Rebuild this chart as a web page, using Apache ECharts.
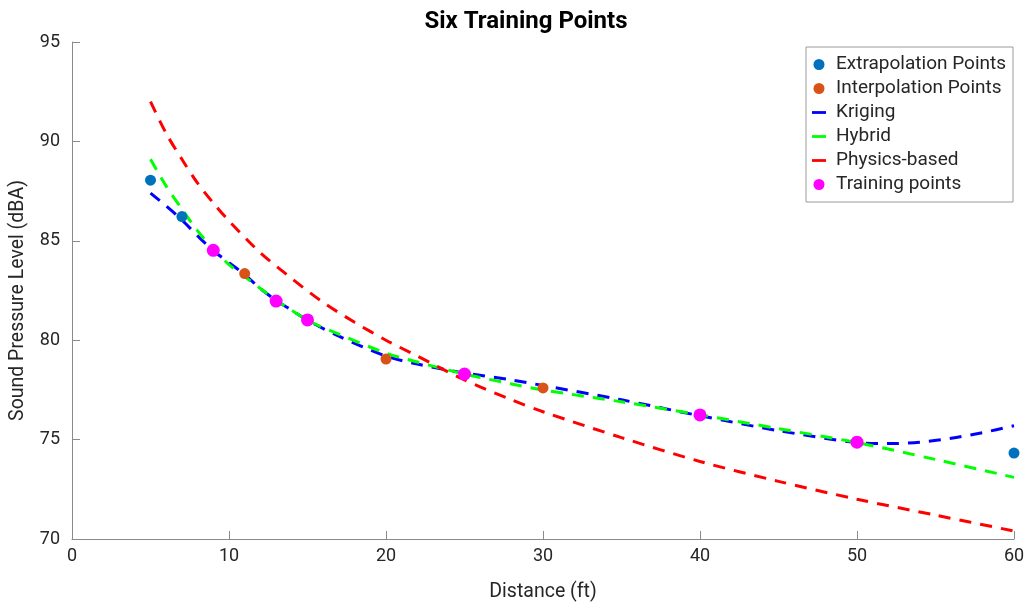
<!DOCTYPE html>
<html>
<head>
<meta charset="utf-8">
<script src="https://cdn.jsdelivr.net/npm/echarts@6/dist/echarts.min.js"></script>
<style>
  html, body { margin: 0; padding: 0; background: #fff; }
  #chart { width: 1031px; height: 603px; }
</style>
</head>
<body>
<div id="chart"></div>
<script>
// data
const extrapolationPts = [[5, 88.05], [7, 86.22], [60, 74.32]]
const interpolationPts = [[11, 83.35], [20, 79.05], [30, 77.6]]
const trainingPts = [[9, 84.52], [13, 81.97], [15, 81.02], [25, 78.3], [40, 76.24], [50, 74.87]]

const krigingX = [5, 6, 7, 8, 9, 10, 11, 12, 13, 14, 15, 17, 20, 22, 25, 28, 30, 35, 40, 45, 50, 52, 54, 56, 58, 60]
const krigingY = [87.4, 86.75, 86.05, 85.25, 84.5, 83.9, 83.3, 82.6, 82.0, 81.5, 81.0, 80.2, 79.2, 78.8, 78.35, 78.0, 77.72, 77.0, 76.2, 75.45, 74.85, 74.8, 74.87, 75.07, 75.35, 75.7]

const hybridX = [5, 6, 7, 8, 9, 10, 11, 12, 13, 14, 15, 17, 20, 22, 25, 28, 30, 35, 40, 45, 50, 55, 60]
const hybridY = [89.1, 87.75, 86.6, 85.5, 84.6, 83.8, 83.2, 82.6, 82.0, 81.5, 81.0, 80.3, 79.35, 78.9, 78.3, 77.8, 77.5, 76.9, 76.25, 75.55, 74.85, 74.0, 73.1]

const physicsX = [5, 6, 7, 8, 9, 10, 12, 14, 16, 18, 20, 22, 25, 28, 30, 35, 40, 45, 50, 55, 60]
const physicsY = [92.0, 90.4, 89.1, 87.9, 86.9, 86.0, 84.4, 83.1, 81.9, 80.9, 80.0, 79.2, 78.0, 77.0, 76.4, 75.1, 73.9, 72.9, 72.0, 71.2, 70.4]

const xTicks = [0, 10, 20, 30, 40, 50, 60]
const yTicks = [70, 75, 80, 85, 90, 95]

const pair = (xs, ys) => xs.map((x, i) => [x, ys[i]])

const axisGray = '#8a8a8a'
const textDark = '#262626'
const font = 'Roboto'
const lineIcon = 'path://M0,0 H20 V4 H0 Z'

let chart = echarts.init(document.getElementById('chart'))

const dashedLine = (name, color, data, z) => ({
  name: name,
  type: 'line',
  data: data,
  showSymbol: false,
  symbol: 'none',
  smooth: 0.3,
  z: z,
  lineStyle: { color: color, width: 3, type: [12, 9] },
  itemStyle: { color: color }
})

const option = {
  animation: false,
  textStyle: { fontFamily: font },
  title: {
    text: 'Six Training Points',
    left: 521,
    textAlign: 'center',
    top: 5,
    textStyle: { fontFamily: font, fontSize: 24, fontWeight: 'bold', color: '#000' }
  },
  legend: {
    orient: 'vertical',
    left: 806,
    top: 47,
    padding: [8, 7, 8, 6],
    itemGap: 5,
    itemWidth: 14,
    itemHeight: 11,
    borderColor: '#9a9a9a',
    borderWidth: 1,
    backgroundColor: '#fff',
    textStyle: { fontFamily: font, fontSize: 19, color: textDark, padding: [0, 0, 0, 5] },
    data: [
      { name: 'Extrapolation Points', icon: 'circle' },
      { name: 'Interpolation Points', icon: 'circle' },
      { name: 'Kriging', icon: lineIcon },
      { name: 'Hybrid', icon: lineIcon },
      { name: 'Physics-based', icon: lineIcon },
      { name: 'Training points', icon: 'circle' }
    ]
  },
  grid: { left: 72, right: 17, top: 42, bottom: 64, outerBoundsMode: 'none', containLabel: false },
  xAxis: {
    type: 'value',
    min: xTicks[0],
    max: xTicks[xTicks.length - 1],
    interval: 10,
    name: 'Distance (ft)',
    nameLocation: 'middle',
    nameGap: 43,
    nameTextStyle: { fontFamily: font, fontSize: 19.5, color: textDark },
    axisLine: { lineStyle: { color: axisGray } },
    axisTick: { inside: true, length: 8, lineStyle: { color: axisGray } },
    axisLabel: { fontFamily: font, fontSize: 18, color: textDark, margin: 8 },
    splitLine: { show: false }
  },
  yAxis: {
    type: 'value',
    min: yTicks[0],
    max: yTicks[yTicks.length - 1],
    interval: 5,
    name: 'Sound Pressure Level (dBA)',
    nameLocation: 'middle',
    nameGap: 44,
    nameTextStyle: { fontFamily: font, fontSize: 19.5, color: textDark, padding: [0, 20, 0, 0] },
    axisLine: { show: true, lineStyle: { color: axisGray } },
    axisTick: { show: true, inside: true, length: 8, lineStyle: { color: axisGray } },
    axisLabel: { fontFamily: font, fontSize: 18, color: textDark, margin: 12 },
    splitLine: { show: false }
  },
  series: [
    {
      name: 'Extrapolation Points',
      type: 'scatter',
      data: extrapolationPts,
      symbolSize: 11,
      z: 5,
      itemStyle: { color: '#0072BD', opacity: 1 }
    },
    {
      name: 'Interpolation Points',
      type: 'scatter',
      data: interpolationPts,
      symbolSize: 11,
      z: 5,
      itemStyle: { color: '#D95319', opacity: 1 }
    },
    dashedLine('Kriging', '#0000FF', pair(krigingX, krigingY), 3),
    dashedLine('Hybrid', '#00FF00', pair(hybridX, hybridY), 3),
    dashedLine('Physics-based', '#FF0000', pair(physicsX, physicsY), 3),
    {
      name: 'Training points',
      type: 'scatter',
      data: trainingPts,
      symbolSize: 13,
      z: 6,
      itemStyle: { color: '#FF00FF', opacity: 1 }
    }
  ]
}

chart.setOption(option)
</script>
</body>
</html>
